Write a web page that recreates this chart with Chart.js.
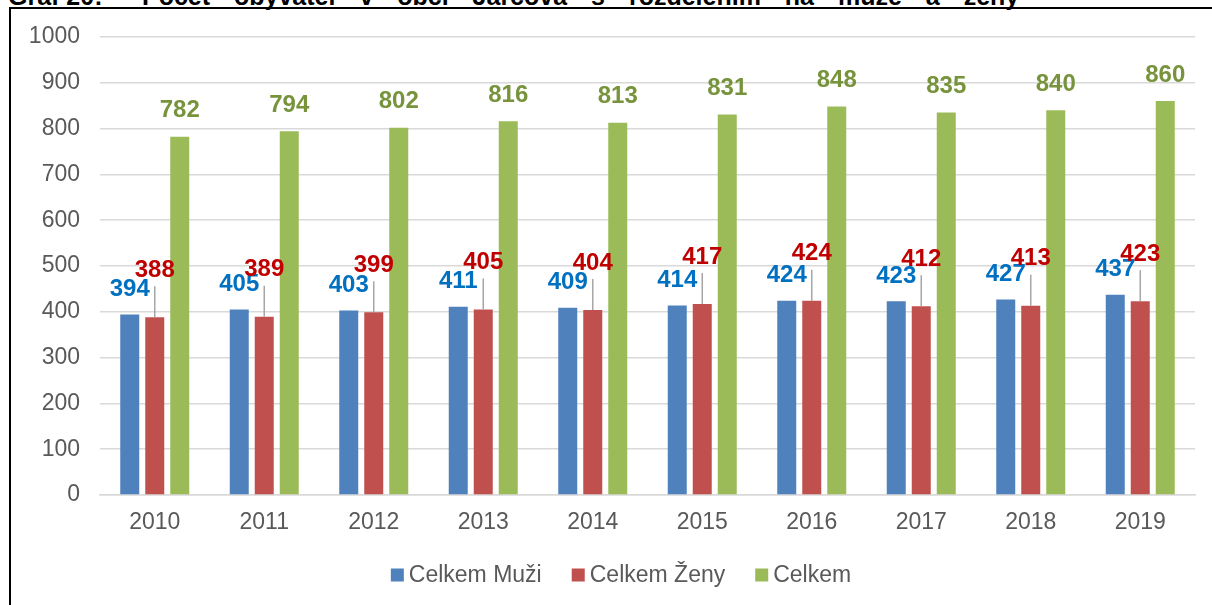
<!DOCTYPE html>
<html>
<head>
<meta charset="utf-8">
<script src="https://cdn.jsdelivr.net/npm/chart.js@4.4.1/dist/chart.umd.min.js"></script>
<style>
    body { margin: 0; background: #fff; overflow: hidden; }
    #wrap { position: relative; width: 1212px; height: 605px; overflow: hidden; }
    #title { position: absolute; top: -16px; left: 8px; font: bold 25px "Liberation Sans", Arial, sans-serif; line-height: 25px; color: #000; white-space: nowrap; }
    #title .rest { position: absolute; left: 134px; top: 0; word-spacing: 17px; }
    #frame { position: absolute; left: 9px; top: 7px; width: 1300px; height: 700px; border: 2px solid #000; }
    canvas { position: absolute; left: 0; top: 0; }
</style>
</head>
<body>
<div id="wrap">
    <div id="frame"></div>
    <div id="title">Graf 20:<span class="rest">Počet obyvatel v obci Jarcová s rozdělením na muže a ženy</span></div>
    <canvas id="myChart" width="1212" height="605"></canvas>
</div>
<script>
const years = ['2010', '2011', '2012', '2013', '2014', '2015', '2016', '2017', '2018', '2019'];
const muzi = [394, 405, 403, 411, 409, 414, 424, 423, 427, 437];
const zeny = [388, 389, 399, 405, 404, 417, 424, 412, 413, 423];
const celkem = [782, 794, 802, 816, 813, 831, 848, 835, 840, 860];
const seriesNames = ['Celkem Muži', 'Celkem Ženy', 'Celkem'];

const FONT = '"Liberation Sans", Arial, sans-serif';

// value labels above bars (red ones get a leader line)
const valueLabels = {
    id: 'valueLabels',
    afterDatasetsDraw(chart) {
        const ctx = chart.ctx;
        const colors = ['#0070C0', '#C00000', '#77933C'];
        const offsets = [26, 48, 27];
        ctx.save();
        ctx.font = 'bold 24px ' + FONT;
        ctx.textAlign = 'center';
        ctx.textBaseline = 'middle';
        chart.data.datasets.forEach((ds, i) => {
            const meta = chart.getDatasetMeta(i);
            meta.data.forEach((bar, j) => {
                const ly = bar.y - offsets[i];
                if (i === 1) {
                    ctx.strokeStyle = '#A6A6A6';
                    ctx.lineWidth = 1.5;
                    ctx.beginPath();
                    ctx.moveTo(bar.x, bar.y);
                    ctx.lineTo(bar.x, ly + 17);
                    ctx.stroke();
                }
                ctx.fillStyle = colors[i];
                ctx.fillText(ds.data[j], bar.x, ly + 1);
            });
        });
        ctx.restore();
    }
};

// legend drawn by hand to get the tight box/text spacing
const bottomLegend = {
    id: 'bottomLegend',
    afterDraw(chart) {
        const ctx = chart.ctx;
        ctx.save();
        ctx.font = '23px ' + FONT;
        ctx.textBaseline = 'middle';
        const box = 13, gap = 5, itemGap = 30, cy = 575;
        const items = chart.data.datasets.map(ds => ({ text: ds.label, color: ds.backgroundColor, w: ctx.measureText(ds.label).width }));
        let total = 0;
        items.forEach((it, k) => { total += box + gap + it.w + (k < items.length - 1 ? itemGap : 0); });
        let x = 621 - total / 2;
        items.forEach(it => {
            ctx.fillStyle = it.color;
            ctx.fillRect(x, cy - box / 2, box, box);
            x += box + gap;
            ctx.fillStyle = '#595959';
            ctx.fillText(it.text, x, cy + 1);
            x += it.w + itemGap;
        });
        ctx.restore();
    }
};

const ctx = document.getElementById('myChart').getContext('2d');
const myChart = new Chart(ctx, {
    type: 'bar',
    data: {
        labels: years,
        datasets: [
            { label: seriesNames[0], data: muzi, backgroundColor: '#4F81BD' },
            { label: seriesNames[1], data: zeny, backgroundColor: '#C0504D' },
            { label: seriesNames[2], data: celkem, backgroundColor: '#9BBB59' }
        ]
    },
    options: {
        responsive: false,
        animation: false,
        devicePixelRatio: 1,
        layout: { padding: { left: 0, right: 17, top: 37, bottom: 70 } },
        datasets: { bar: { categoryPercentage: 0.685, barPercentage: 0.76 } },
        plugins: {
            legend: { display: false },
            tooltip: { enabled: false }
        },
        scales: {
            x: {
                grid: { display: false, drawTicks: false },
                border: { color: '#D9D9D9', width: 1.5 },
                ticks: { color: '#595959', font: { family: FONT, size: 23 }, padding: 14 },
                afterFit: (scale) => { scale.height = 40; }
            },
            y: {
                min: 0,
                max: 1000,
                ticks: {
                    stepSize: 100,
                    color: '#595959',
                    font: { family: FONT, size: 23 },
                    padding: 20,
                    callback: (v) => String(v)
                },
                grid: { color: '#D9D9D9', lineWidth: 1.5, drawTicks: false },
                border: { display: false },
                afterFit: (scale) => { scale.width = 100; }
            }
        }
    },
    plugins: [valueLabels, bottomLegend]
});
</script>
</body>
</html>
